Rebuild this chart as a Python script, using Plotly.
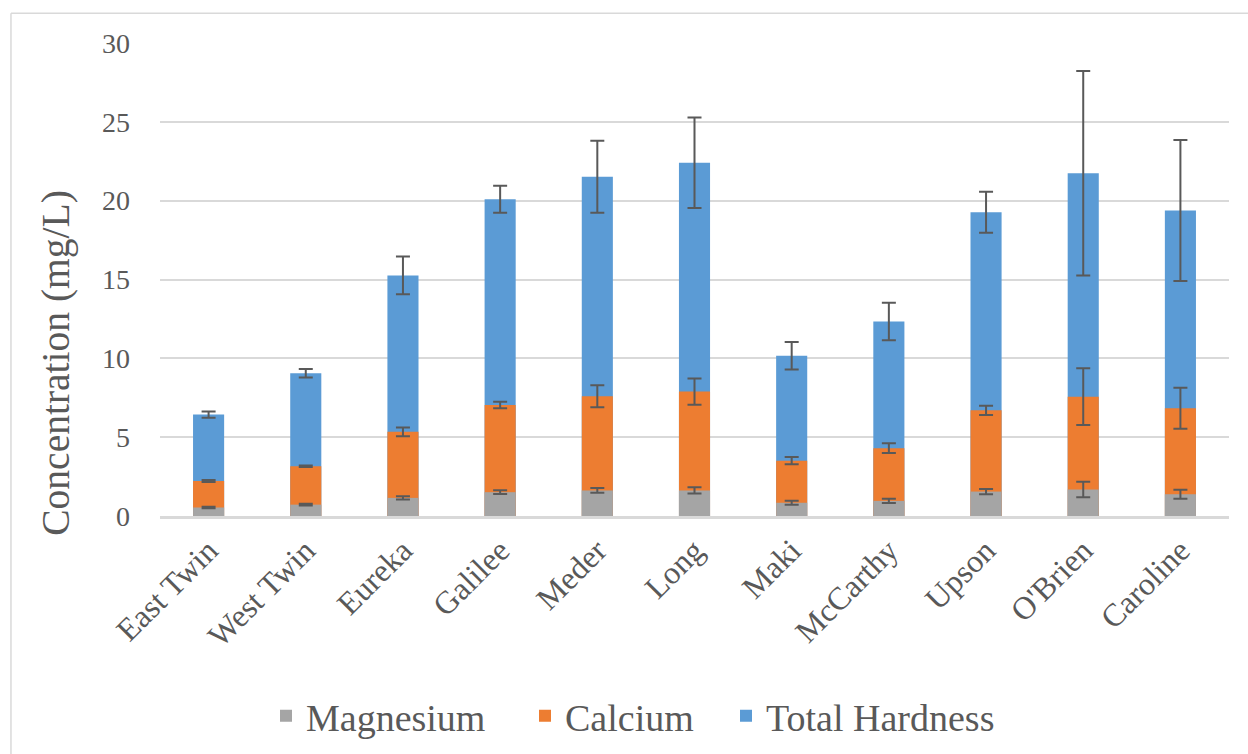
import plotly.graph_objects as go

lakes = ["East Twin", "West Twin", "Eureka", "Galilee", "Meder", "Long",
         "Maki", "McCarthy", "Upson", "O'Brien", "Caroline"]
magnesium = [0.54, 0.72, 1.15, 1.51, 1.62, 1.62, 0.84, 0.96, 1.55, 1.68, 1.38]
magnesium_err = [0.05, 0.05, 0.1, 0.12, 0.15, 0.2, 0.12, 0.13, 0.17, 0.49, 0.29]
calcium = [2.22, 3.16, 5.34, 7.04, 7.59, 7.89, 3.51, 4.30, 6.70, 7.57, 6.83]
calcium_err = [0.06, 0.05, 0.28, 0.2, 0.7, 0.83, 0.23, 0.31, 0.3, 1.8, 1.3]
hardness = [6.43, 9.05, 15.26, 20.09, 21.52, 22.41, 10.16, 12.34, 19.27, 21.74, 19.37]
hardness_err = [0.2, 0.27, 1.2, 0.85, 2.28, 2.87, 0.87, 1.19, 1.3, 6.48, 4.47]

FONT = "Liberation Serif"
TXT = "#595959"
ERRC = "#595959"

W, H = 1248, 754
L, R, T, B = 160, 19.3, 42.7, 237.5
pw, ph = W - L - R, H - T - B


def px(x):
    return (x - L) / pw


def py(y):
    return (H - B - y) / ph


def err(vals):
    return dict(type="data", array=vals, visible=True, color=ERRC, thickness=2, width=7)


fig = go.Figure()
fig.add_trace(go.Bar(x=lakes, y=hardness, name="Total Hardness", marker_color="#5B9BD5",
                     marker_line_width=0, error_y=err(hardness_err), legend="legend3"))
fig.add_trace(go.Bar(x=lakes, y=calcium, name="Calcium", marker_color="#ED7D31",
                     marker_line_width=0, error_y=err(calcium_err), legend="legend2"))
fig.add_trace(go.Bar(x=lakes, y=magnesium, name="Magnesium", marker_color="#A5A5A5",
                     marker_line_width=0, error_y=err(magnesium_err), legend="legend"))


def leg(square_center_x):
    return dict(orientation="h", xref="container", yref="container",
                x=(square_center_x - 20) / W, xanchor="left",
                y=1 - 716 / H, yanchor="middle",
                bgcolor="rgba(0,0,0,0)", borderwidth=0,
                font=dict(size=38, family=FONT, color=TXT), itemwidth=30)


fig.update_layout(
    width=W, height=H,
    margin=dict(l=L, r=R, t=T, b=B, autoexpand=False),
    barmode="overlay",
    bargap=0.68,
    plot_bgcolor="white",
    paper_bgcolor="white",
    font=dict(family=FONT, color=TXT),
    showlegend=True,
    legend=leg(286),
    legend2=leg(545),
    legend3=leg(746),
    xaxis=dict(tickangle=-45, tickfont=dict(size=32, family=FONT, color=TXT),
               showline=True, linecolor="#D9D9D9", linewidth=3, ticks="",
               showgrid=False, automargin=False),
    yaxis=dict(range=[0, 30], dtick=5, tickfont=dict(size=28, family=FONT, color=TXT),
               showgrid=True, gridcolor="#D9D9D9", gridwidth=1.5,
               zeroline=False, showline=False, ticks="", ticklabelstandoff=29,
               automargin=False),
    annotations=[
        dict(text="Concentration (mg/L)", textangle=-90, showarrow=False,
             xref="paper", yref="paper", x=px(56), y=py(363),
             xanchor="center", yanchor="middle",
             font=dict(size=39.5, family=FONT, color=TXT)),
    ],
    shapes=[
        dict(type="line", xref="paper", yref="paper", x0=px(11), x1=px(11), y0=py(13), y1=py(760),
             line=dict(color="#D9D9D9", width=1.5)),
        dict(type="line", xref="paper", yref="paper", x0=px(11), x1=px(1250), y0=py(13), y1=py(13),
             line=dict(color="#D9D9D9", width=1.5)),
    ],
)

fig.write_html("out.html", config={"displayModeBar": False},
               post_script="document.body.style.margin='0';document.body.style.overflow='hidden';")
